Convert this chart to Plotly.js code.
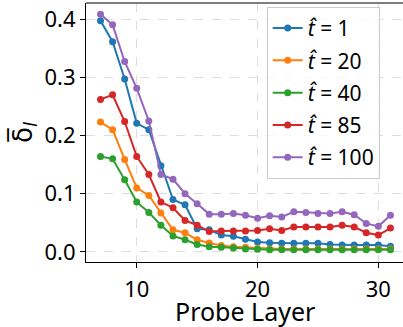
<!DOCTYPE html>
<html>
<head>
<meta charset="utf-8">
<script src="https://cdn.plot.ly/plotly-3.0.1.min.js"></script>
<style>html,body{margin:0;padding:0;overflow:hidden;background:#fff;}</style>
</head>
<body>
<div id="chart" style="width:403px;height:327px;"></div>
<script>
const layers = [7,8,9,10,11,12,13,14,15,16,17,18,19,20,21,22,23,24,25,26,27,28,29,30,31];
const seriesNames = ["<i>t̂</i> = 1", "<i>t̂</i> = 20", "<i>t̂</i> = 40", "<i>t̂</i> = 85", "<i>t̂</i> = 100"];
const xTitle = 'Probe Layer';
const yTitle = 'δ̅<sub><i>l</i></sub>';
const t1   = [0.397,0.361,0.297,0.221,0.210,0.148,0.090,0.081,0.040,0.038,0.029,0.027,0.022,0.017,0.016,0.015,0.015,0.015,0.015,0.013,0.012,0.012,0.012,0.012,0.010];
const t20  = [0.223,0.210,0.159,0.110,0.097,0.067,0.038,0.033,0.021,0.0155,0.011,0.009,0.008,0.006,0.005,0.005,0.005,0.005,0.005,0.005,0.005,0.005,0.005,0.005,0.005];
const t40  = [0.164,0.160,0.124,0.086,0.068,0.046,0.0275,0.021,0.013,0.009,0.008,0.007,0.005,0.0045,0.004,0.004,0.004,0.004,0.004,0.004,0.004,0.004,0.004,0.004,0.004];
const t85  = [0.262,0.270,0.224,0.164,0.133,0.086,0.076,0.054,0.046,0.035,0.036,0.036,0.036,0.037,0.040,0.037,0.043,0.043,0.043,0.043,0.046,0.043,0.033,0.029,0.041];
const t100 = [0.408,0.390,0.327,0.281,0.225,0.133,0.125,0.100,0.083,0.065,0.065,0.066,0.063,0.058,0.062,0.060,0.069,0.068,0.066,0.066,0.069,0.064,0.049,0.044,0.063];
const colors = ["#1f77b4","#ff7f0e","#2ca02c","#d62728","#9467bd"];
const allSeries = [t1,t20,t40,t85,t100];

const traces = allSeries.map((ys,i)=>({
  x: layers, y: ys, name: seriesNames[i], type: 'scatter', mode: 'lines+markers',
  legendgroup: 'g' + i,
  line: {color: colors[i], width: 2},
  marker: {color: colors[i], size: 7}
}));

const layout = {
  width: 403, height: 327,
  margin: {l: 86, r: 0, t: 3, b: 65},
  paper_bgcolor: '#fff', plot_bgcolor: '#fff',
  font: {family: 'Noto Sans, sans-serif', color: '#000', size: 20},
  showlegend: true,
  legend: {x: 0.57, y: 0.985, xanchor: 'left', yanchor: 'top',
    bgcolor: 'rgba(255,255,255,0.8)', bordercolor: '#cccccc', borderwidth: 1,
    font: {size: 21}, tracegroupgap: 2},
  xaxis: {range: [5.8, 32.04], tickvals: [10,20,30], ticks: 'outside', ticklen: 5, tickcolor: '#000',
    showline: true, linecolor: '#000', linewidth: 1, mirror: false,
    showgrid: true, gridcolor: '#dddddd', griddash: 'dash', gridwidth: 1, zeroline: false,
    tickfont: {size: 22}, automargin: false, ticklabelstandoff: 3},
  yaxis: {range: [-0.0172, 0.4275], tickvals: [0,0.1,0.2,0.3,0.4], ticktext: ['0.0','0.1','0.2','0.3','0.4'],
    ticks: 'outside', ticklen: 5, tickcolor: '#000',
    showline: true, linecolor: '#000', linewidth: 1,
    showgrid: true, gridcolor: '#dddddd', griddash: 'dash', gridwidth: 1, zeroline: false,
    tickfont: {size: 22}, automargin: false,
    title: {text: yTitle, font: {size: 26, family: 'DejaVu Sans'}, standoff: 4}},
  annotations: [{text: xTitle, xref: 'paper', yref: 'paper', x: 0.5, y: 0, xanchor: 'center', yanchor: 'top',
    yshift: -30, showarrow: false, font: {size: 25}}],
  shapes: [{type: 'line', xref: 'paper', yref: 'paper', x0: 0, x1: 1, y0: 1, y1: 1, line: {color: '#000', width: 1}}]
};
Plotly.newPlot('chart', traces, layout, {displayModeBar: false, staticPlot: true});
</script>
</body>
</html>
